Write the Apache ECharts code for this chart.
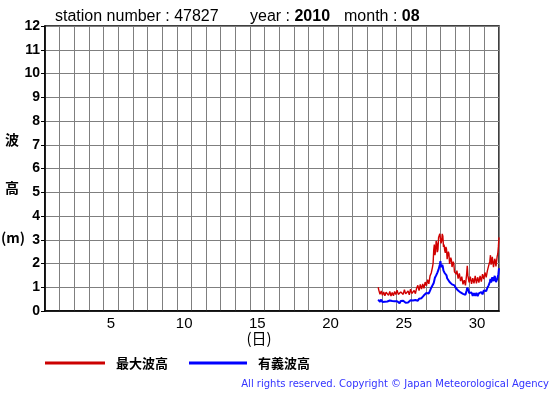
<!DOCTYPE html>
<html><head><meta charset="utf-8">
<script src="https://cdn.jsdelivr.net/npm/echarts@6/dist/echarts.min.js"></script>
<style>html,body{margin:0;padding:0;background:#fff}#c{width:555px;height:395px}</style>
</head><body><div id="c"></div>
<script>
// categories (days of the month)
const days = ['1','2','3','4','5','6','7','8','9','10','11','12','13','14','15','16','17','18','19','20','21','22','23','24','25','26','27','28','29','30','31'];
const dayLabels = ['5','10','15','20','25','30'];
// time of first sample (days since start of month) and 1-hour step
const tStart = 22.75;
const tStep = 1 / 24;
// 最大波高 (max wave height, m), hourly
const maxWave = [
1.00,0.88,0.82,0.70,0.72,0.84,0.78,0.66,0.70,0.80,0.76,0.64,0.68,0.79,0.74,0.86,0.80,0.66,0.70,0.82,
0.75,0.63,0.66,0.78,0.72,0.64,0.68,0.82,0.78,0.69,0.70,0.88,0.82,0.70,0.72,0.64,0.68,0.80,0.76,0.88,
0.84,0.70,0.74,0.90,0.86,0.72,0.76,0.66,0.70,0.84,0.80,0.68,0.74,0.92,0.88,0.74,0.78,0.68,0.72,0.86,
0.84,0.73,0.78,0.96,0.92,1.08,1.02,0.86,0.90,1.12,1.06,0.92,0.96,1.14,1.10,0.95,1.00,1.22,1.18,1.06,
1.12,1.32,1.28,1.14,1.20,1.48,1.42,1.60,1.55,1.85,2.00,2.55,2.80,2.35,2.50,2.95,2.85,2.48,2.60,3.10,
3.05,3.25,3.30,2.85,2.95,3.25,3.15,2.70,2.80,2.55,2.45,2.70,2.60,2.18,2.25,2.50,2.40,1.98,2.05,2.25,
2.15,1.85,1.90,2.08,1.98,1.65,1.70,1.58,1.55,1.70,1.62,1.36,1.40,1.58,1.50,1.26,1.30,1.45,1.38,1.12,
1.15,1.30,1.22,1.08,1.12,1.55,1.90,1.50,1.45,1.20,1.25,1.45,1.38,1.14,1.18,1.38,1.32,1.16,1.22,1.48,
1.40,1.16,1.20,1.42,1.35,1.20,1.25,1.48,1.42,1.24,1.28,1.55,1.48,1.34,1.40,1.62,1.55,1.42,1.48,1.70,
1.62,1.78,1.70,2.10,2.35,1.95,2.05,2.28,2.20,1.85,1.90,2.20,2.10,1.88,1.95,2.30,2.40,2.70,3.10];
// 有義波高 (significant wave height, m), hourly
const sigWave = [
0.48,0.42,0.44,0.39,0.42,0.48,0.46,0.38,0.40,0.46,0.44,0.39,0.42,0.47,0.45,0.40,0.43,0.38,0.40,0.44,
0.42,0.36,0.37,0.42,0.40,0.34,0.36,0.41,0.39,0.33,0.35,0.41,0.40,0.34,0.37,0.33,0.36,0.42,0.40,0.36,
0.38,0.43,0.42,0.37,0.39,0.35,0.37,0.42,0.41,0.36,0.38,0.42,0.40,0.45,0.43,0.37,0.39,0.44,0.42,0.38,
0.40,0.46,0.44,0.49,0.47,0.43,0.45,0.52,0.50,0.45,0.47,0.54,0.52,0.58,0.55,0.66,0.62,0.70,0.68,0.76,
0.74,0.82,0.80,0.74,0.78,0.86,0.90,0.98,0.95,1.02,1.05,1.18,1.25,1.40,1.35,1.50,1.45,1.62,1.55,1.75,
1.70,1.95,2.10,1.85,1.80,1.95,1.85,1.70,1.65,1.60,1.55,1.58,1.50,1.38,1.40,1.45,1.35,1.22,1.25,1.28,
1.20,1.12,1.15,1.06,1.10,1.08,1.05,0.98,0.95,1.00,0.92,0.86,0.85,0.92,0.88,0.78,0.78,0.86,0.82,0.72,
0.72,0.78,0.75,0.68,0.70,0.86,0.98,0.90,0.88,0.76,0.74,0.68,0.70,0.78,0.76,0.64,0.66,0.75,0.72,0.64,
0.68,0.76,0.74,0.63,0.65,0.74,0.72,0.66,0.70,0.80,0.78,0.70,0.75,0.86,0.82,0.90,0.92,0.84,0.88,0.98,
1.00,1.08,1.05,1.22,1.35,1.20,1.25,1.42,1.40,1.26,1.30,1.48,1.45,1.22,1.20,1.34,1.30,1.55,1.80];

const FONT = '"Liberation Sans", Arial, sans-serif';
const JP = '"Noto Sans CJK JP", sans-serif';
const toPairs = arr => arr.map((v, i) => [tStart + i * tStep, v]);

const chart = echarts.init(document.getElementById('c'), null, {renderer: 'canvas'});
chart.setOption({
  animation: false,
  backgroundColor: '#fff',
  grid: {left: 45, top: 26, right: 56, bottom: 84, show: true, borderColor: '#000', borderWidth: 1.5, backgroundColor: 'transparent'},
  xAxis: [{
    type: 'category', data: days, boundaryGap: true,
    axisLine: {show: true, lineStyle: {color: '#000', width: 1.5}},
    axisTick: {show: false},
    axisLabel: {interval: 0, color: '#000', fontFamily: FONT, fontSize: 15, margin: 5,
      formatter: v => dayLabels.indexOf(v) >= 0 ? v : ''},
    splitLine: {show: true, interval: 0, lineStyle: {color: '#7f7f7f', width: 1}}
  }, {
    type: 'value', min: 0, max: 31, show: false
  }],
  yAxis: {
    type: 'value', min: 0, max: 12, interval: 1,
    axisLine: {show: true, lineStyle: {color: '#000', width: 1.5}},
    axisTick: {show: true, length: 4, lineStyle: {color: '#000'}},
    axisLabel: {color: '#000', fontFamily: FONT, fontSize: 14, fontWeight: 'bold', margin: 5},
    splitLine: {show: true, lineStyle: {color: '#7f7f7f', width: 1}}
  },
  series: [{
    name: '最大波高', type: 'line', xAxisIndex: 1, data: toPairs(maxWave),
    showSymbol: false, lineStyle: {color: '#d00000', width: 1.4}, z: 3
  }, {
    name: '有義波高', type: 'line', xAxisIndex: 1, data: toPairs(sigWave),
    showSymbol: false, lineStyle: {color: '#0000ff', width: 2}, z: 4
  }],
  graphic: [
    {type: 'text', style: {x: 55, y: 17, text: 'station number : 47827', font: '16px ' + FONT, fill: '#000', textVerticalAlign: 'middle'}},
    {type: 'text', style: {x: 250, y: 17, text: '{a|year : }{b|2010}', textVerticalAlign: 'middle',
      rich: {a: {fontFamily: FONT, fontSize: 16, color: '#000'}, b: {fontFamily: FONT, fontSize: 16, fontWeight: 'bold', color: '#000'}}}},
    {type: 'text', style: {x: 344, y: 17, text: '{a|month : }{b|08}', textVerticalAlign: 'middle',
      rich: {a: {fontFamily: FONT, fontSize: 16, color: '#000'}, b: {fontFamily: FONT, fontSize: 16, fontWeight: 'bold', color: '#000'}}}},
    {type: 'text', style: {x: 12, y: 140, text: '波', font: 'bold 14px ' + JP, fill: '#000', textAlign: 'center', textVerticalAlign: 'middle'}},
    {type: 'text', style: {x: 12, y: 188, text: '高', font: 'bold 14px ' + JP, fill: '#000', textAlign: 'center', textVerticalAlign: 'middle'}},
    {type: 'text', style: {x: 13, y: 238, text: '(m)', font: 'bold 14px ' + JP, fill: '#000', textAlign: 'center', textVerticalAlign: 'middle'}},
    {type: 'text', style: {x: 259, y: 338, text: '(日)', font: '15px ' + JP, fill: '#000', textAlign: 'center', textVerticalAlign: 'middle'}},
    {type: 'line', shape: {x1: 45, y1: 363, x2: 105, y2: 363}, style: {stroke: '#cc0000', lineWidth: 3}},
    {type: 'text', style: {x: 116, y: 363, text: '最大波高', font: 'bold 13px ' + JP, fill: '#000', textVerticalAlign: 'middle'}},
    {type: 'line', shape: {x1: 189, y1: 363, x2: 247, y2: 363}, style: {stroke: '#0000ff', lineWidth: 3}},
    {type: 'text', style: {x: 258, y: 363, text: '有義波高', font: 'bold 13px ' + JP, fill: '#000', textVerticalAlign: 'middle'}},
    {type: 'text', style: {x: 549, y: 384, text: 'All rights reserved. Copyright © Japan Meteorological Agency', font: '10px "DejaVu Sans", sans-serif', fill: '#3333ff', textAlign: 'right', textVerticalAlign: 'middle'}}
  ]
});
</script></body></html>
